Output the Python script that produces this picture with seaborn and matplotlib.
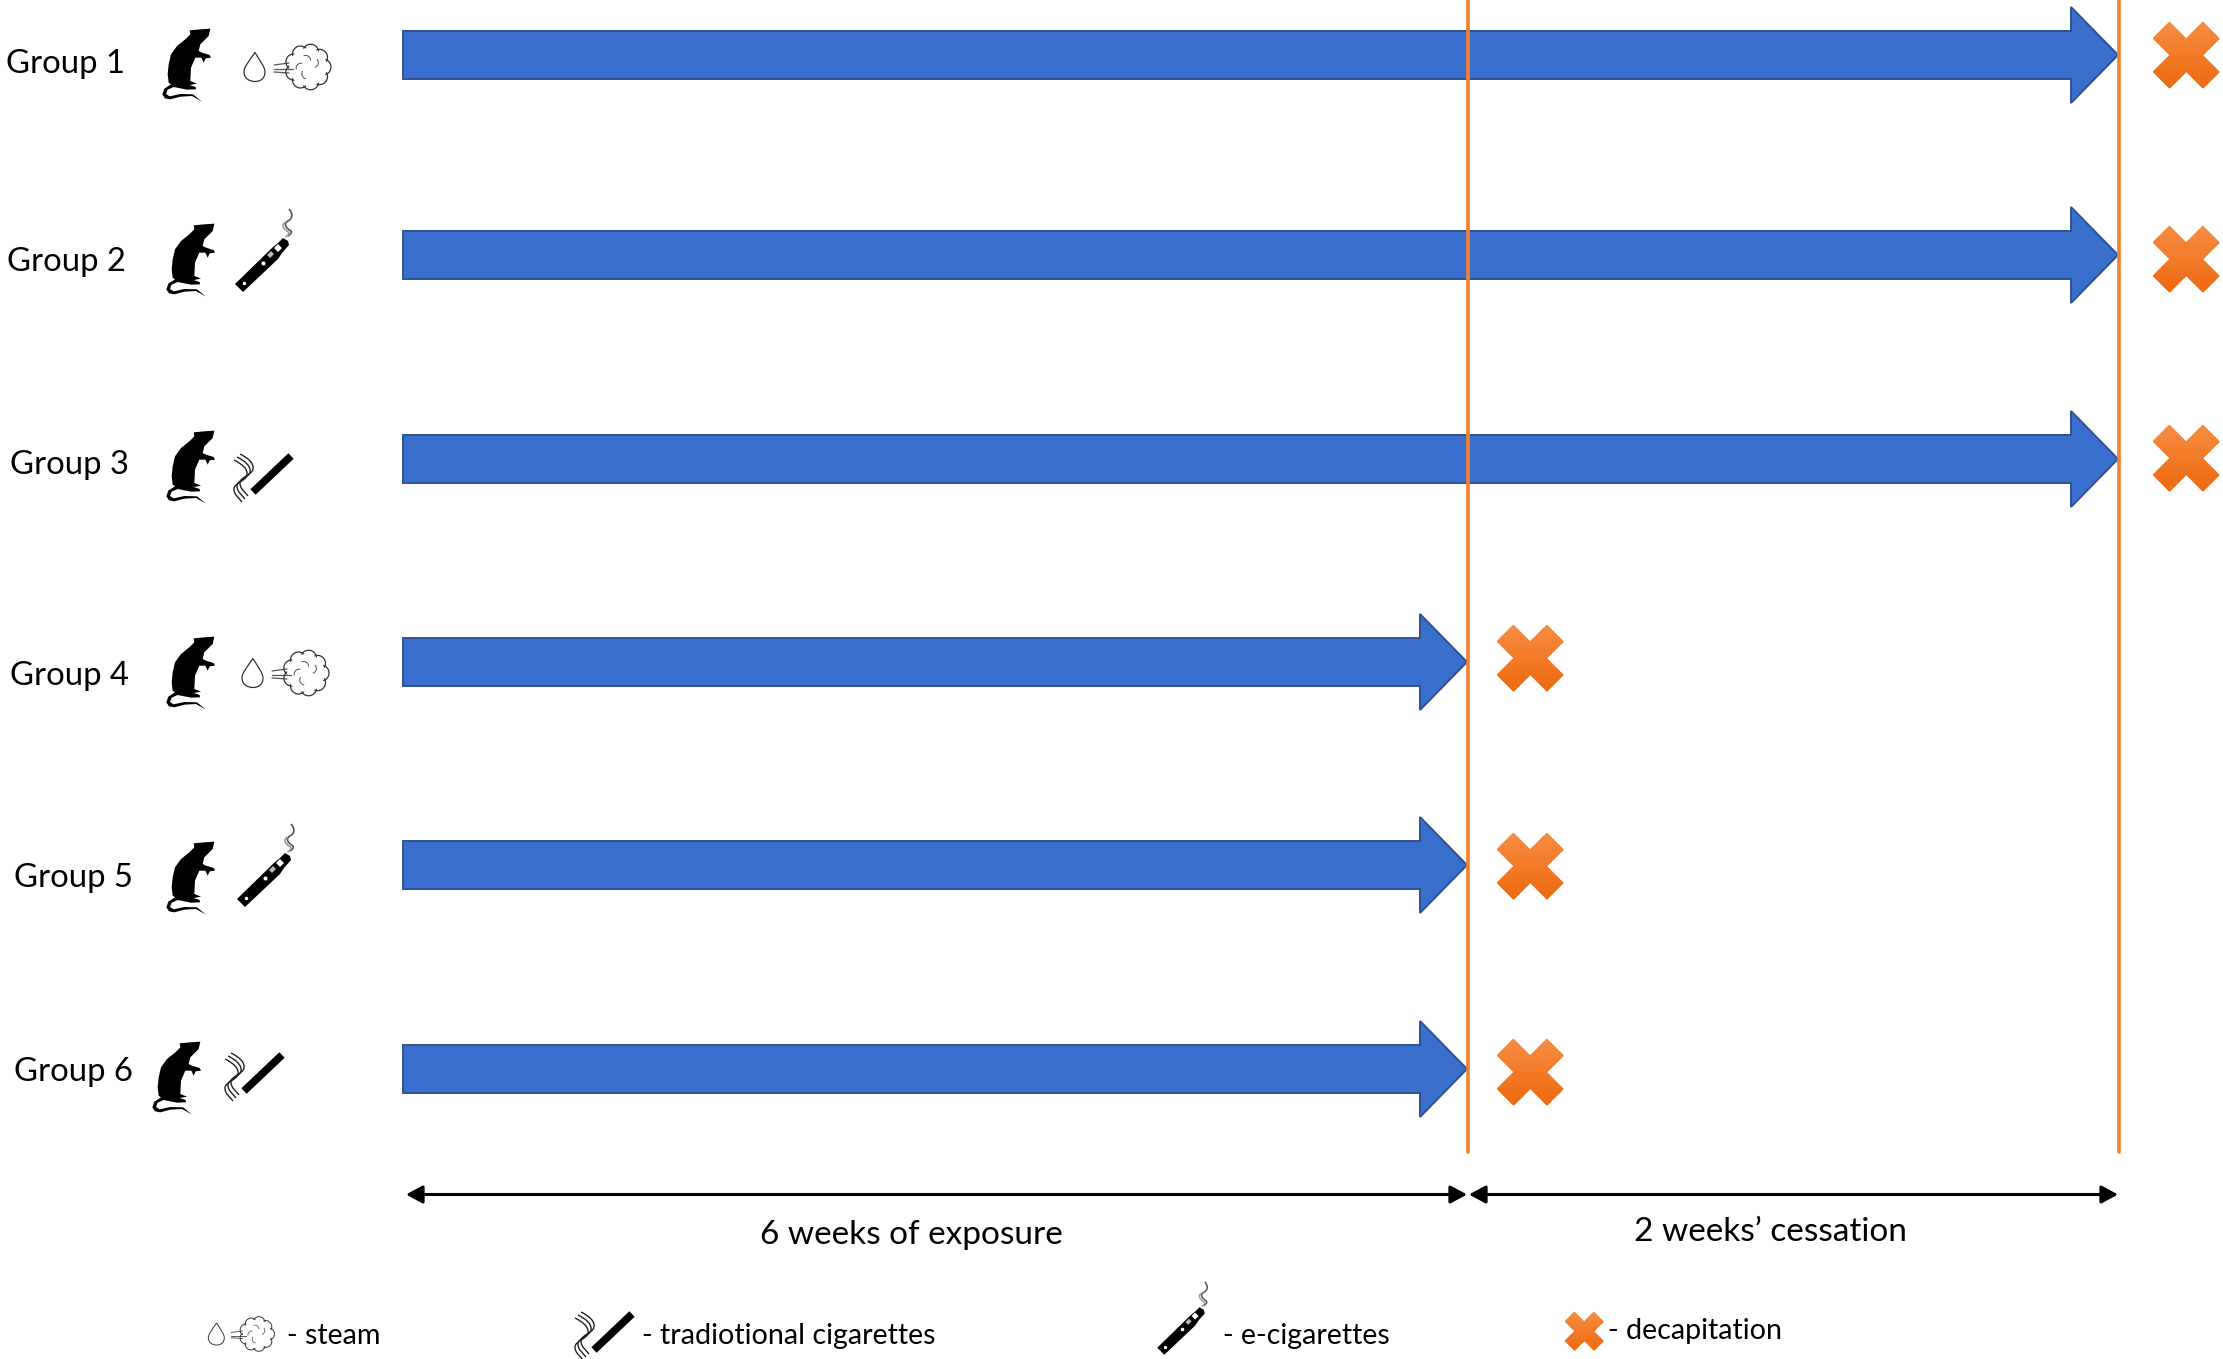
import numpy as np
import pandas as pd
import seaborn as sns
from matplotlib import pyplot as plt
from matplotlib.colors import LinearSegmentedColormap
from matplotlib.patches import Polygon, PathPatch
from matplotlib.path import Path

# data
groups = ["Group 1", "Group 2", "Group 3", "Group 4", "Group 5", "Group 6"]
exposure = ["steam", "e-cig", "cig", "steam", "e-cig", "cig"]
end_week = [8, 8, 8, 6, 6, 6]
phase_labels = ["6 weeks of exposure", "2 weeks\u2019 cessation"]
phase_weeks = [(0, 6), (6, 8)]
legend_labels = ["- steam", "- tradiotional cigarettes", "- e-cigarettes", "- decapitation"]

# layout, in pixels of the final image
W, H = 2223, 1359
week_ticks = [0, 6, 8]
week_px = [403, 1467, 2118]
arrow_y = [55, 255, 459, 662, 865, 1069]
cross_y = [55, 259, 458, 658, 866, 1072]
label_xy = [(6, 64), (7, 262), (10, 465), (10, 676), (14, 878), (14, 1072)]
rat_xy = [(187, 65), (191, 260), (191, 467), (191, 673), (191, 878), (177, 1078)]
icon_xy = [(287, 67), (262, 265), (264, 477), (285, 673), (264, 880), (255, 1076)]

BLUE = "#3B6FCE"
BLUE_EDGE = "#2F528F"
ORANGE = "#F4802F"
FONT = ["Lato", "DejaVu Sans"]

sns.set_theme(style="white")
plt.rcParams["font.family"] = FONT

fig = plt.figure(figsize=(W / 100, H / 100), dpi=100)
ax = fig.add_axes([0, 0, 1, 1])


def week_to_px(week):
    return float(np.interp(week, week_ticks, week_px))


RAT = [(630, 83), (600, 85), (568, 88), (570, 100), (555, 115), (530, 135), (512, 160),
       (505, 190), (502, 220), (505, 245), (512, 250), (492, 263), (486, 280), (494, 292),
       (510, 295), (540, 287), (575, 285), (605, 302), (578, 280), (540, 279), (508, 286),
       (497, 279), (502, 266), (520, 258), (560, 266), (587, 265), (586, 258), (568, 252),
       (590, 248), (570, 240), (572, 200), (585, 170), (603, 170), (610, 185), (616, 172),
       (632, 170), (628, 162), (605, 155), (595, 150), (600, 130), (625, 105)]


def draw_rat(cx, cy):
    pts = [(cx + (x - 560) / 3, cy + (y - 192) / 3) for x, y in RAT]
    ax.add_patch(Polygon(pts, closed=True, color="black", lw=0, zorder=3))


def draw_steam(cx, cy, k=1.0):
    lw = 0.9 * k
    # drop
    verts = [(-32, -14.5), (-38, -6), (-43, 0), (-43, 5), (-43, 11), (-38, 14.5), (-32, 14.5),
             (-26, 14.5), (-22, 11), (-22, 5), (-22, 0), (-27, -6), (-32, -14.5)]
    codes = [Path.MOVETO] + [Path.CURVE4] * 12
    drop = Path([(cx + x * k, cy + y * k) for x, y in verts], codes)
    ax.add_patch(PathPatch(drop, fc="white", ec="#333333", lw=lw, zorder=3))
    # puff lines
    for x0, y0, x1, y1 in [(-13, -2, 2, -4), (-13, 2, 6, 2), (-13, 5, 2, 6)]:
        ax.plot([cx + x0 * k, cx + x1 * k], [cy + y0 * k, cy + y1 * k], color="#555555", lw=lw, zorder=3)
    # cloud, made of small arcs
    ccx, ccy = cx + 21 * k, cy + 0
    for a in np.arange(0, 360, 40):
        rad = np.deg2rad(a)
        bx = ccx + 15 * k * np.cos(rad)
        by = ccy + 15 * k * np.sin(rad)
        th = np.deg2rad(np.linspace(a - 70, a + 70, 20))
        ax.plot(bx + 8 * k * np.cos(th), by + 8 * k * np.sin(th), color="#333333", lw=lw, zorder=3)
    for a in [100, 170, 250, 320]:
        rad = np.deg2rad(a)
        bx = ccx + 7 * k * np.cos(rad)
        by = ccy + 7 * k * np.sin(rad)
        th = np.deg2rad(np.linspace(a, a + 110, 10))
        ax.plot(bx + 5 * k * np.cos(th), by + 5 * k * np.sin(th), color="#555555", lw=lw * 0.8, zorder=3)


def draw_curve(points, cx, cy, k, color, lw):
    # smooth line through the given control points, needs 3n+1 of them
    codes = [Path.MOVETO] + [Path.CURVE4] * (len(points) - 1)
    path = Path([(cx + x * k, cy + y * k) for x, y in points], codes)
    ax.add_patch(PathPatch(path, fc="none", ec=color, lw=lw, zorder=3))


def draw_ecig(cx, cy, k=1.0):
    def tr(pts):
        return [(cx + x * k, cy + y * k) for x, y in pts]
    ax.add_patch(Polygon(tr([(-27, 19), (-19, 27), (16, -6), (20, -12), (27, -20), (26, -24), (21, -27), (16, -22), (11, -18)]),
                         closed=True, color="black", lw=0, zorder=3))
    ax.add_patch(Polygon(tr([(12, -17), (16, -13), (20, -17), (16, -21)]), closed=True, color="white", lw=0, zorder=4))
    ax.add_patch(Polygon(tr([(5, -10), (8, -7), (12, -11), (9, -14)]), closed=True, color="#BBBBBB", lw=0, zorder=4))
    ax.plot(cx + 1 * k, cy - 2 * k, "o", mfc="white", mec="black", ms=3.5 * k, mew=0.5, zorder=4)
    ax.plot(cx - 18 * k, cy + 18 * k, "o", color="white", ms=1.5 * k, zorder=4)
    smoke = [(27, -56), (31, -51), (31, -47), (26, -44), (21, -41), (24, -37), (29, -34), (30, -32), (28, -30), (26, -29)]
    draw_curve(smoke, cx, cy, k, "#555555", 1.2 * k)
    draw_curve([(x - 2.5, y + 1) for x, y in smoke[3:]], cx, cy, k, "#999999", 1.2 * k)


def draw_cig(cx, cy, k=1.0):
    ax.plot([cx - 11 * k, cx + 27 * k], [cy + 15 * k, cy - 21 * k], color="black", lw=5.5 * k,
            solid_capstyle="butt", zorder=3)
    curve = [(-25, -22), (-17, -18), (-11, -13), (-12, -7), (-13, -1), (-25, 1), (-25, 7), (-25, 13), (-20, 16), (-17, 20)]
    for dx, dy in [(1, -1), (-2, 2), (-5, 5)]:
        draw_curve([(x + dx, y + dy) for x, y in curve], cx, cy, k, "#222222", 1.0 * k)


CROSS = np.array([(-.5, -1), (0, -.5), (.5, -1), (1, -.5), (.5, 0), (1, .5), (.5, 1), (0, .5),
                  (-.5, 1), (-1, .5), (-.5, 0), (-1, -.5)])
cross_marker = Path(np.vstack([CROSS, CROSS[:1]]), closed=True)
cross_cmap = LinearSegmentedColormap.from_list("x", ["#F68D42", "#EE6A10"])


def draw_cross_gradient(cx, cy, half):
    clip = Polygon(CROSS * half + [cx, cy], closed=True, transform=ax.transData, fc="none", ec="none")
    ax.add_patch(clip)
    img = ax.imshow(np.linspace(0, 1, 64).reshape(-1, 1), cmap=cross_cmap, aspect="auto", zorder=4,
                    extent=(cx - half, cx + half, cy + half, cy - half), origin="upper")
    img.set_clip_path(clip)


# arrows, one per group
for week, y in zip(end_week, arrow_y):
    tip = week_to_px(week)
    shaft_end = tip - 47
    pts = [(week_px[0], y - 24), (shaft_end, y - 24), (shaft_end, y - 48), (tip, y),
           (shaft_end, y + 48), (shaft_end, y + 24), (week_px[0], y + 24)]
    ax.add_patch(Polygon(pts, closed=True, fc=BLUE, ec=BLUE_EDGE, lw=1.4, zorder=1))

# vertical guides at the end of each phase
for week in week_ticks[1:]:
    x = week_to_px(week) + 1
    sns.lineplot(x=[x, x], y=[0, 1152], estimator=None, sort=False, color=ORANGE, linewidth=2.6, ax=ax, zorder=2)

# decapitation marks
cross_df = pd.DataFrame({"x": [week_to_px(w) + (68 if w == 8 else 63) for w in end_week], "y": cross_y})
sns.scatterplot(data=cross_df, x="x", y="y", marker=cross_marker, s=48 ** 2, color=ORANGE, linewidth=0, ax=ax, zorder=3)

# group labels and icons
for name, kind, lab, rat, icon in zip(groups, exposure, label_xy, rat_xy, icon_xy):
    ax.text(lab[0], lab[1], name, fontsize=23.7, va="center", ha="left", color="black")
    draw_rat(*rat)
    if kind == "steam":
        draw_steam(*icon)
    elif kind == "e-cig":
        draw_ecig(*icon)
    else:
        draw_cig(*icon)

# phase ranges under the arrows
for (start, stop), label, lx, ly in zip(phase_weeks, phase_labels, [911, 1770], [1235, 1232]):
    x0 = week_to_px(start) + (3 if start == 0 else 2)
    x1 = week_to_px(stop)
    ax.annotate("", xy=(x1, 1194.5), xytext=(x0, 1194.5),
                arrowprops=dict(arrowstyle="<|-|>,head_length=0.5,head_width=0.27", color="black",
                                lw=2.2, shrinkA=0, shrinkB=0, mutation_scale=20))
    ax.text(lx, ly, label, fontsize=24, ha="center", va="center", color="black")

# legend row
draw_steam(241, 1334, 0.76)
draw_cig(605, 1335, 1.0)
draw_ecig(1181, 1331, 0.88)
sns.scatterplot(x=[1584], y=[1331], marker=cross_marker, s=28 ** 2, color=ORANGE, linewidth=0, ax=ax, zorder=3)
for label, x, y in zip(legend_labels, [287, 642, 1223, 1608], [1336, 1336, 1336, 1331]):
    ax.text(x, y, label, fontsize=20.6, va="center", ha="left", color="black")

for cx, cy in zip(cross_df["x"], cross_df["y"]):
    draw_cross_gradient(cx, cy, 33.5)
draw_cross_gradient(1584, 1331, 19.5)

ax.set_xlim(0, W)
ax.set_ylim(H, 0)
ax.set_xlabel("")
ax.set_ylabel("")
ax.axis("off")

fig.savefig("out.png", dpi=100, facecolor="white")
